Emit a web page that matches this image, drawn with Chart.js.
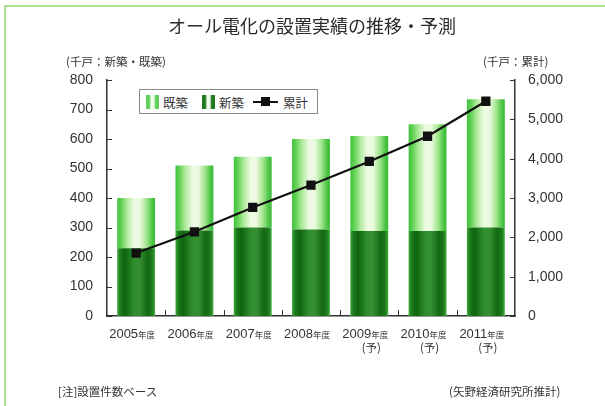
<!DOCTYPE html>
<html>
<head>
<meta charset="utf-8">
<script src="https://cdn.jsdelivr.net/npm/chart.js@4.4.0/dist/chart.umd.min.js"></script>
<style>
	body { margin: 0; background: #fff; }
	#wrap { position: relative; width: 605px; height: 406px; overflow: hidden; font-family: "Liberation Sans", Arial, "Noto Sans CJK JP", sans-serif; color: #333; }
	#frame { position: absolute; left: 4px; top: 5px; right: -4px; bottom: -4px; border-top: 2px solid #a9e291; border-left: 2px solid #a9e291; }
	canvas { position: absolute; left: 0; top: 0; }
	.txt { position: absolute; white-space: nowrap; font-family: "Noto Sans CJK JP", sans-serif; }
	#title { left: 312px; top: 12px; transform: translateX(-50%); font-size: 18px; color: #2a2a2a; }
	#legend { position: absolute; left: 139px; top: 89px; width: 177px; height: 23px; border: 1px solid #8a8a8a; background: #fff; }
	.ico { position: absolute; top: 5px; width: 13px; height: 14px; }
	.lab { position: absolute; top: 3px; font-size: 12.5px; font-family: "Noto Sans CJK JP", sans-serif; color: #333; }
</style>
</head>
<body>
<div id="wrap">
	<div id="frame"></div>
	<canvas id="chart" width="605" height="406"></canvas>
	<div class="txt" id="title">オール電化の設置実績の推移・予測</div>
	<div class="txt" style="left:66px; top:53px; font-size:11.5px;">(千戸：新築・既築)</div>
	<div class="txt" style="left:483px; top:53px; font-size:11.5px;">(千戸：累計)</div>
	<div id="legend">
		<div class="ico" style="left:6px; background: linear-gradient(to right, #5fd05a 0%, #5fd05a 25%, #f2fced 40%, #f2fced 60%, #5fd05a 75%, #5fd05a 100%);"></div>
		<div class="lab" style="left:23px;">既築</div>
		<div class="ico" style="left:62px; background: linear-gradient(to right, #1f7a1f 0%, #1f7a1f 25%, #f2fced 40%, #f2fced 60%, #1f7a1f 75%, #1f7a1f 100%);"></div>
		<div class="lab" style="left:79px;">新築</div>
		<div style="position:absolute; left:113px; top:11px; width:25px; height:2px; background:#111;"></div>
		<div style="position:absolute; left:121px; top:7px; width:9px; height:9px; background:#111;"></div>
		<div class="lab" style="left:143px;">累計</div>
	</div>
	<div class="txt" style="left:58px; top:383px; font-size:11.5px;">[注]設置件数ベース</div>
	<div class="txt" style="left:449px; top:383px; font-size:11.5px;">(矢野経済研究所推計)</div>
</div>
<script>
const years = ['2005', '2006', '2007', '2008', '2009', '2010', '2011']
const forecast = [false, false, false, false, true, true, true]
const newBuild = [230, 290, 300, 293, 288, 288, 300]        // 新築 (千戸)
const existing = [170, 220, 240, 307, 322, 362, 435]        // 既築 (千戸)
const cumulative = [1600, 2140, 2760, 3330, 3930, 4570, 5460] // 累計 (千戸)

const NUM_FONT = '"Liberation Sans", Arial, sans-serif'
const CJK_FONT = '"Noto Sans CJK JP", sans-serif'
const BAR_PCT = 0.65

function barGradient(stops, solid) {
	return function(c) {
		const chart = c.chart
		const area = chart.chartArea
		const xs = chart.scales.x
		if (!area || !xs || c.dataIndex === undefined) return solid
		const cx = xs.getPixelForValue(c.dataIndex)
		const w = (area.right - area.left) / years.length * BAR_PCT
		const g = chart.ctx.createLinearGradient(cx - w / 2, 0, cx + w / 2, 0)
		stops.forEach(s => g.addColorStop(s[0], s[1]))
		return g
	}
}

const darkStops = [[0, '#3ea83a'], [0.08, '#1c7a1c'], [0.2, '#0f640f'], [0.45, '#2f8f2c'], [0.6, '#358f30'], [0.8, '#146814'], [0.92, '#1d7a1d'], [1, '#43b040']]
const lightStops = [[0, '#3fc23c'], [0.1, '#5fd052'], [0.25, '#a9e996'], [0.45, '#eefbe4'], [0.6, '#eafadf'], [0.78, '#9fe48a'], [0.92, '#4cc646'], [1, '#3ab837']]

// inward ticks on all three axes + two-size x labels
const axisDecor = {
	id: 'axisDecor',
	afterDraw(chart) {
		const ctx = chart.ctx
		const area = chart.chartArea
		const xs = chart.scales.x, ys = chart.scales.y, y2 = chart.scales.y2
		ctx.save()
		ctx.strokeStyle = '#333'
		ctx.lineWidth = 1
		ys.ticks.forEach((t, i) => {
			const y = Math.round(ys.getPixelForTick(i)) + 0.5
			ctx.beginPath(); ctx.moveTo(area.left, y); ctx.lineTo(area.left + 5, y); ctx.stroke()
		})
		y2.ticks.forEach((t, i) => {
			const y = Math.round(y2.getPixelForTick(i)) + 0.5
			ctx.beginPath(); ctx.moveTo(area.right - 5, y); ctx.lineTo(area.right, y); ctx.stroke()
		})
		for (let i = 1; i < years.length; i++) {
			const x = Math.round((xs.getPixelForValue(i - 1) + xs.getPixelForValue(i)) / 2) + 0.5
			ctx.beginPath(); ctx.moveTo(x, area.bottom); ctx.lineTo(x, area.bottom - 6); ctx.stroke()
		}

		ctx.fillStyle = '#333'
		ctx.textBaseline = 'alphabetic'
		years.forEach((yr, i) => {
			const cx = xs.getPixelForValue(i)
			ctx.font = '13px ' + NUM_FONT
			const w1 = ctx.measureText(yr).width
			ctx.font = '8.5px ' + CJK_FONT
			const w2 = ctx.measureText('年度').width
			const x0 = cx - 4 - (w1 + w2) / 2
			ctx.textAlign = 'left'
			ctx.font = '13px ' + NUM_FONT
			ctx.fillText(yr, x0, area.bottom + 22)
			ctx.font = '8.5px ' + CJK_FONT
			ctx.fillText('年度', x0 + w1, area.bottom + 22)
			if (forecast[i]) {
				ctx.textAlign = 'center'
				ctx.font = '11.5px ' + CJK_FONT
				ctx.fillText('(予)', cx + 2, area.bottom + 36)
			}
		})
		ctx.restore()
	}
}

document.addEventListener('DOMContentLoaded', function() {
	const chartElem = document.getElementById('chart').getContext('2d')
	new Chart(chartElem, {
		data: {
			labels: years,
			datasets: [
				{
					type: 'line',
					label: '累計',
					data: cumulative,
					yAxisID: 'y2',
					borderColor: '#111',
					borderWidth: 2.2,
					pointStyle: 'rect',
					pointRadius: 5,
					pointBackgroundColor: '#111',
					pointBorderColor: '#111',
					order: 0
				},
				{
					type: 'bar',
					label: '新築',
					data: newBuild,
					yAxisID: 'y',
					stack: 'a',
					backgroundColor: barGradient(darkStops, '#3a9a33'),
					barPercentage: BAR_PCT,
					categoryPercentage: 1,
					order: 1
				},
				{
					type: 'bar',
					label: '既築',
					data: existing,
					yAxisID: 'y',
					stack: 'a',
					backgroundColor: barGradient(lightStops, '#b5eca5'),
					barPercentage: BAR_PCT,
					categoryPercentage: 1,
					order: 1
				}
			]
		},
		options: {
			responsive: false,
			animation: false,
			layout: { padding: { left: 0, right: 0, top: 80, bottom: 0 } },
			plugins: {
				legend: { display: false },
				title: { display: false },
				tooltip: { enabled: false }
			},
			scales: {
				x: {
					stacked: true,
					grid: { display: false },
					border: { display: true, color: '#333', width: 1.5 },
					ticks: { display: false },
					afterFit: function(scale) { scale.height = 90 }
				},
				y: {
					position: 'left',
					stacked: true,
					min: 0,
					max: 800,
					grid: { display: false },
					border: { display: true, color: '#333', width: 1.5 },
					ticks: { stepSize: 100, color: '#333', padding: 6, font: { family: NUM_FONT, size: 14 } },
					afterFit: function(scale) { scale.width = 107 }
				},
				y2: {
					position: 'right',
					min: 0,
					max: 6000,
					grid: { display: false },
					border: { display: true, color: '#333', width: 1.5 },
					ticks: {
						stepSize: 1000,
						color: '#333',
						padding: 5,
						font: { family: NUM_FONT, size: 14 },
						callback: v => v.toLocaleString('en-US')
					},
					afterFit: function(scale) { scale.width = 90 }
				}
			}
		},
		plugins: [axisDecor]
	})
})
</script>
</body>
</html>
